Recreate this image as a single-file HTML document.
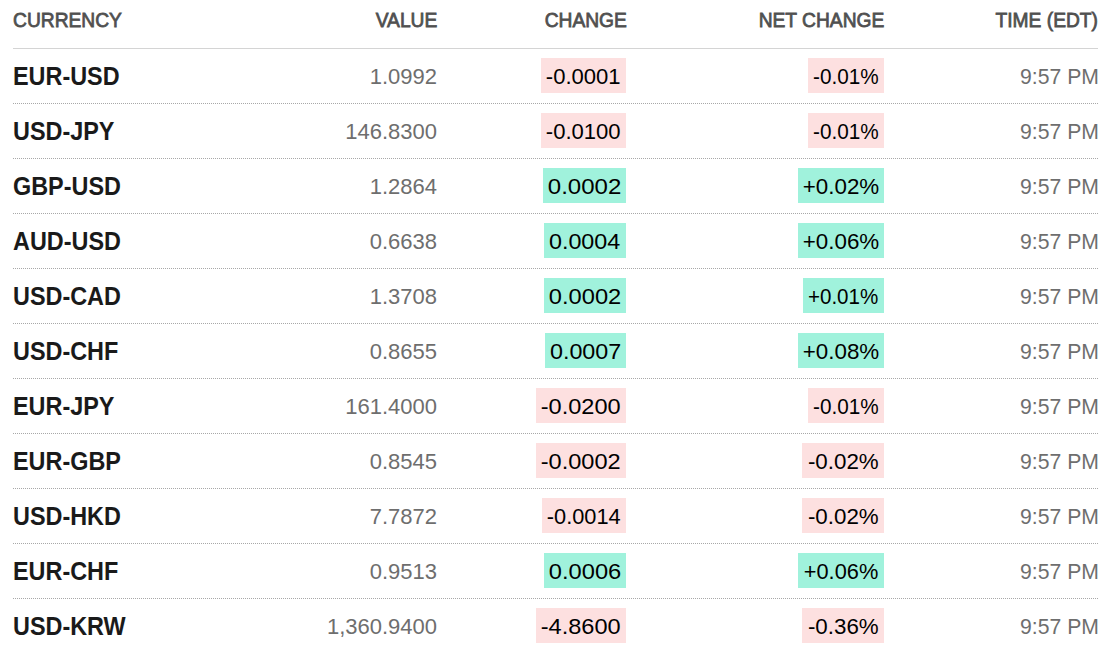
<!DOCTYPE html><html><head><meta charset="utf-8"><style>
html,body{margin:0;padding:0;background:#fff;width:1113px;height:651px;overflow:hidden;}
body{font-family:"Liberation Sans",sans-serif;position:relative;}
.t{position:absolute;white-space:nowrap;line-height:1;}
.t span{display:inline-block;}
.hd{color:#505050;font-size:21px;-webkit-text-stroke:0.8px #505050;}
.hd span{transform:scaleX(0.915);}
.hl span{transform-origin:left top;} .hr span{transform-origin:right top;}
.ln{position:absolute;left:13px;width:1085px;height:0;}
.so{border-top:1px solid #d4d4d4;top:48px;}
.dt{border-top:1px dotted #a8a8a8;}
.nm{font-weight:bold;color:#1a1a1a;font-size:26px;}
.nm span{transform:scaleX(0.9);transform-origin:left top;}
.vl{color:#6e6e6e;font-size:22px;}
.vl span{transform:scaleX(1.0);transform-origin:right top;}
.tm span{transform:scaleX(0.963);}
.bd{position:absolute;height:35px;}
.ng{background:#fde0e0;} .ps{background:#a0f2dc;}
.bt{color:#000;font-size:22px;}
.bt span{transform:scaleX(1.03);transform-origin:right top;}
</style></head><body>
<div class="t hd hl" style="left:13px;top:9.22px"><span>CURRENCY</span></div>
<div class="t hd hr" style="right:676.00px;top:9.22px"><span>VALUE</span></div>
<div class="t hd hr" style="right:486.50px;top:9.22px"><span>CHANGE</span></div>
<div class="t hd hr" style="right:228.50px;top:9.22px"><span>NET CHANGE</span></div>
<div class="t hd hr" style="right:15.50px;top:9.22px"><span>TIME (EDT)</span></div>
<div class="ln so"></div>
<div class="ln dt" style="top:103px"></div>
<div class="t nm" style="left:13px;top:62.99px"><span>EUR-USD</span></div>
<div class="t vl" style="right:676.00px;top:66.38px"><span>1.0992</span></div>
<div class="t vl tm" style="right:14.00px;top:66.38px"><span>9:57 PM</span></div>
<div class="bd ng" style="left:541px;width:85px;top:58px"></div>
<div class="t bt" style="right:492.00px;top:66.38px"><span style="transform:scaleX(1.0025)">-0.0001</span></div>
<div class="bd ng" style="left:808px;width:76px;top:58px"></div>
<div class="t bt" style="right:234.00px;top:66.38px"><span style="transform:scaleX(0.9417)">-0.01%</span></div>
<div class="ln dt" style="top:158px"></div>
<div class="t nm" style="left:13px;top:117.99px"><span>USD-JPY</span></div>
<div class="t vl" style="right:676.00px;top:121.38px"><span>146.8300</span></div>
<div class="t vl tm" style="right:14.00px;top:121.38px"><span>9:57 PM</span></div>
<div class="bd ng" style="left:541px;width:85px;top:113px"></div>
<div class="t bt" style="right:492.00px;top:121.38px"><span style="transform:scaleX(1.0025)">-0.0100</span></div>
<div class="bd ng" style="left:808px;width:76px;top:113px"></div>
<div class="t bt" style="right:234.00px;top:121.38px"><span style="transform:scaleX(0.9417)">-0.01%</span></div>
<div class="ln dt" style="top:213px"></div>
<div class="t nm" style="left:13px;top:172.99px"><span>GBP-USD</span></div>
<div class="t vl" style="right:676.00px;top:176.38px"><span>1.2864</span></div>
<div class="t vl tm" style="right:14.00px;top:176.38px"><span>9:57 PM</span></div>
<div class="bd ps" style="left:543px;width:83px;top:168px"></div>
<div class="t bt" style="right:492.00px;top:176.38px"><span style="transform:scaleX(1.0915)">0.0002</span></div>
<div class="bd ps" style="left:798px;width:86px;top:168px"></div>
<div class="t bt" style="right:234.00px;top:176.38px"><span style="transform:scaleX(1.0163)">+0.02%</span></div>
<div class="ln dt" style="top:268px"></div>
<div class="t nm" style="left:13px;top:227.99px"><span>AUD-USD</span></div>
<div class="t vl" style="right:676.00px;top:231.38px"><span>0.6638</span></div>
<div class="t vl tm" style="right:14.00px;top:231.38px"><span>9:57 PM</span></div>
<div class="bd ps" style="left:544px;width:82px;top:223px"></div>
<div class="t bt" style="right:493.00px;top:231.38px"><span style="transform:scaleX(1.0604)">0.0004</span></div>
<div class="bd ps" style="left:798px;width:86px;top:223px"></div>
<div class="t bt" style="right:234.00px;top:231.38px"><span style="transform:scaleX(1.0163)">+0.06%</span></div>
<div class="ln dt" style="top:323px"></div>
<div class="t nm" style="left:13px;top:282.99px"><span>USD-CAD</span></div>
<div class="t vl" style="right:676.00px;top:286.38px"><span>1.3708</span></div>
<div class="t vl tm" style="right:14.00px;top:286.38px"><span>9:57 PM</span></div>
<div class="bd ps" style="left:544px;width:82px;top:278px"></div>
<div class="t bt" style="right:492.00px;top:286.38px"><span style="transform:scaleX(1.0762)">0.0002</span></div>
<div class="bd ps" style="left:803px;width:81px;top:278px"></div>
<div class="t bt" style="right:235.00px;top:286.38px"><span style="transform:scaleX(0.9341)">+0.01%</span></div>
<div class="ln dt" style="top:378px"></div>
<div class="t nm" style="left:13px;top:337.99px"><span>USD-CHF</span></div>
<div class="t vl" style="right:676.00px;top:341.38px"><span>0.8655</span></div>
<div class="t vl tm" style="right:14.00px;top:341.38px"><span>9:57 PM</span></div>
<div class="bd ps" style="left:545px;width:81px;top:333px"></div>
<div class="t bt" style="right:492.00px;top:341.38px"><span style="transform:scaleX(1.0607)">0.0007</span></div>
<div class="bd ps" style="left:798px;width:86px;top:333px"></div>
<div class="t bt" style="right:234.00px;top:341.38px"><span style="transform:scaleX(1.0163)">+0.08%</span></div>
<div class="ln dt" style="top:433px"></div>
<div class="t nm" style="left:13px;top:392.99px"><span>EUR-JPY</span></div>
<div class="t vl" style="right:676.00px;top:396.38px"><span>161.4000</span></div>
<div class="t vl tm" style="right:14.00px;top:396.38px"><span>9:57 PM</span></div>
<div class="bd ng" style="left:536px;width:90px;top:388px"></div>
<div class="t bt" style="right:492.00px;top:396.38px"><span style="transform:scaleX(1.0712)">-0.0200</span></div>
<div class="bd ng" style="left:808px;width:76px;top:388px"></div>
<div class="t bt" style="right:234.00px;top:396.38px"><span style="transform:scaleX(0.9417)">-0.01%</span></div>
<div class="ln dt" style="top:488px"></div>
<div class="t nm" style="left:13px;top:447.99px"><span>EUR-GBP</span></div>
<div class="t vl" style="right:676.00px;top:451.38px"><span>0.8545</span></div>
<div class="t vl tm" style="right:14.00px;top:451.38px"><span>9:57 PM</span></div>
<div class="bd ng" style="left:536px;width:90px;top:443px"></div>
<div class="t bt" style="right:492.00px;top:451.38px"><span style="transform:scaleX(1.0712)">-0.0002</span></div>
<div class="bd ng" style="left:802px;width:82px;top:443px"></div>
<div class="t bt" style="right:234.00px;top:451.38px"><span style="transform:scaleX(1.0154)">-0.02%</span></div>
<div class="ln dt" style="top:543px"></div>
<div class="t nm" style="left:13px;top:502.99px"><span>USD-HKD</span></div>
<div class="t vl" style="right:676.00px;top:506.38px"><span>7.7872</span></div>
<div class="t vl tm" style="right:14.00px;top:506.38px"><span>9:57 PM</span></div>
<div class="bd ng" style="left:542px;width:84px;top:498px"></div>
<div class="t bt" style="right:492.00px;top:506.38px"><span style="transform:scaleX(0.9889)">-0.0014</span></div>
<div class="bd ng" style="left:802px;width:82px;top:498px"></div>
<div class="t bt" style="right:234.00px;top:506.38px"><span style="transform:scaleX(1.0154)">-0.02%</span></div>
<div class="ln dt" style="top:598px"></div>
<div class="t nm" style="left:13px;top:557.99px"><span>EUR-CHF</span></div>
<div class="t vl" style="right:676.00px;top:561.38px"><span>0.9513</span></div>
<div class="t vl tm" style="right:14.00px;top:561.38px"><span>9:57 PM</span></div>
<div class="bd ps" style="left:544px;width:82px;top:553px"></div>
<div class="t bt" style="right:492.00px;top:561.38px"><span style="transform:scaleX(1.0762)">0.0006</span></div>
<div class="bd ps" style="left:798px;width:86px;top:553px"></div>
<div class="t bt" style="right:235.00px;top:561.38px"><span style="transform:scaleX(0.9893)">+0.06%</span></div>
<div class="ln dt" style="top:653px"></div>
<div class="t nm" style="left:13px;top:612.99px"><span>USD-KRW</span></div>
<div class="t vl" style="right:676.00px;top:616.38px"><span>1,360.9400</span></div>
<div class="t vl tm" style="right:14.00px;top:616.38px"><span>9:57 PM</span></div>
<div class="bd ng" style="left:536px;width:90px;top:608px"></div>
<div class="t bt" style="right:492.00px;top:616.38px"><span style="transform:scaleX(1.0712)">-4.8600</span></div>
<div class="bd ng" style="left:802px;width:82px;top:608px"></div>
<div class="t bt" style="right:234.00px;top:616.38px"><span style="transform:scaleX(1.0154)">-0.36%</span></div>
</body></html>
